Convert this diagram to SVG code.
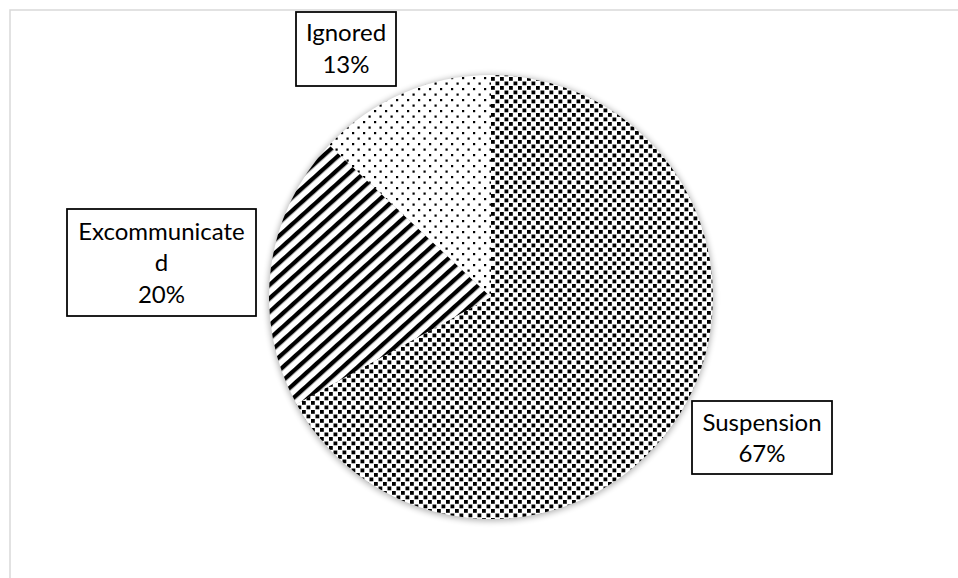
<svg xmlns="http://www.w3.org/2000/svg" width="958" height="578" viewBox="0 0 958 578">
  <style>
    .lbl { font-family: Lato, "Open Sans", "Liberation Sans", sans-serif; font-size: 24px; fill: #000; text-anchor: middle; }
    .box { fill: #fff; stroke: #000; stroke-width: 1.75; }
  </style>
  <defs>
    <pattern id="pSusp" patternUnits="userSpaceOnUse" width="9" height="9">
      <rect width="9" height="9" fill="#fff"/>
      <rect x="0.5" y="0.5" width="3.8" height="3.8" fill="#000"/>
      <rect x="5" y="5" width="3.8" height="3.8" fill="#000"/>
    </pattern>
    <pattern id="pIgn" patternUnits="userSpaceOnUse" width="11" height="11">
      <rect width="11" height="11" fill="#fff"/>
      <rect x="0" y="0" width="2.2" height="2.2" fill="#000"/>
      <rect x="5.5" y="5.5" width="2.2" height="2.2" fill="#000"/>
    </pattern>
    <pattern id="pExc" patternUnits="userSpaceOnUse" width="10" height="10" patternTransform="rotate(-42)">
      <rect width="10" height="10" fill="#fff"/>
      <rect x="0" y="0" width="10" height="4.3" fill="#000"/>
    </pattern>
    <filter id="glow" x="-10%" y="-10%" width="120%" height="120%">
      <feGaussianBlur stdDeviation="3"/>
    </filter>
  </defs>

  <rect x="10" y="10" width="960" height="580" fill="#fff" stroke="#d9d9d9" stroke-width="1.5"/>

  <g id="pie">
    <circle cx="491" cy="298" r="223" fill="#000" opacity="0.3" filter="url(#glow)"/>
    <g id="slice-suspension">
      <path d="M491,297 L491,75 A222,222 0 1 1 296.5,404 Z" fill="url(#pSusp)"/>
    </g>
    <g id="slice-excommunicated">
      <path d="M491,297 L296.5,404 A222,222 0 0 1 329.2,145 Z" fill="url(#pExc)"/>
    </g>
    <g id="slice-ignored">
      <path d="M491,297 L329.2,145 A222,222 0 0 1 491,75 Z" fill="url(#pIgn)"/>
    </g>
  </g>

  <g id="connectors"></g>

  <g id="label-ignored">
    <rect class="box" x="296" y="12" width="100" height="74"/>
    <text class="lbl" x="346" y="41">Ignored</text>
    <text class="lbl" x="346" y="73">13%</text>
  </g>
  <g id="label-excommunicated">
    <rect class="box" x="67" y="209" width="189" height="107"/>
    <text class="lbl" x="161.5" y="240">Excommunicate</text>
    <text class="lbl" x="161.5" y="271">d</text>
    <text class="lbl" x="161.5" y="303">20%</text>
  </g>
  <g id="label-suspension">
    <rect class="box" x="692" y="401" width="140" height="73"/>
    <text class="lbl" x="762" y="431">Suspension</text>
    <text class="lbl" x="762" y="462">67%</text>
  </g>
</svg>
